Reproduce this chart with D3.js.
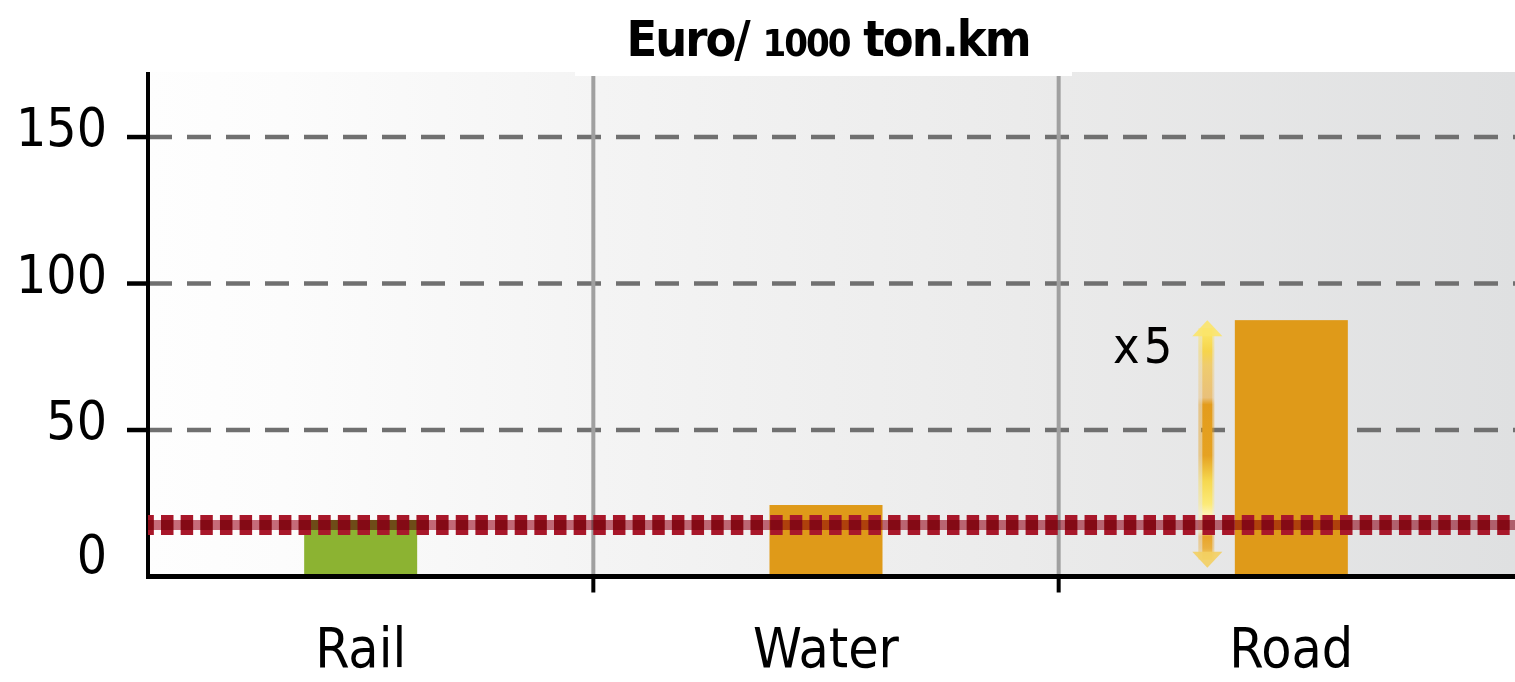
<!DOCTYPE html>
<html>
<head>
<meta charset="utf-8">
<script src="https://cdn.jsdelivr.net/npm/d3@7"></script>
<style>
  html, body { margin: 0; padding: 0; background: #ffffff; }
  svg { display: block; }
  .lbl { font-family: "DejaVu Sans Condensed", "DejaVu Sans", sans-serif; font-stretch: condensed; fill: #000; }
</style>
</head>
<body>
<svg id="chart" width="1515" height="682"></svg>
<script>
// ---- data ----
const categories = ["Rail", "Water", "Road"];
const values = [19.3, 24.4, 87.5];
const barColors = ["#8cb332", "#df9a19", "#df9a19"];
const yTicks = [0, 50, 100, 150];
const yTickLabels = ["0", "50", "100", "150"];
const referenceLevel = 17.6;          // dotted red line
const arrowRange = [3, 87.5];         // x5 arrow from bottom to road value
const arrowLabel = "x5";
const titleParts = ["Euro/ ", "1000", " ton.km"];

// ---- layout ----
const W = 1515, H = 682;
const plot = { left: 148, right: 1515, top: 72, bottom: 576.5 };

const svg = d3.select("#chart");

const y = d3.scaleLinear().domain([0, 172.2]).range([plot.bottom, plot.top]);
const x = d3.scaleBand().domain(categories).range([128, 1524]).paddingInner(0).paddingOuter(0);
const barW = 113;

const defs = svg.append("defs");
const bg = defs.append("linearGradient").attr("id", "bgGrad")
  .attr("x1", "0%").attr("x2", "100%").attr("y1", "0%").attr("y2", "0%");
[[0, "#fefefe"], [0.1, "#fcfcfc"], [0.33, "#f4f4f4"], [0.67, "#eaeaea"], [1, "#dfe0e1"]]
  .forEach(([o, c]) => bg.append("stop").attr("offset", o).attr("stop-color", c));

const ag = defs.append("linearGradient").attr("id", "arrowGrad")
  .attr("x1", "0").attr("x2", "0").attr("y1", "0").attr("y2", "1");
[[0, "#fde96a"], [0.1, "#f6d44c"], [0.16, "#efcc6e"], [0.3, "#e9c07a"], [0.33, "#e39c1c"],
 [0.55, "#e5a222"], [0.66, "#f6d850"], [0.76, "#fcea78"], [0.8, "#fdf2b0"], [0.88, "#f3d890"],
 [0.9, "#e8a52a"], [0.95, "#eab040"], [1, "#f8dc70"]]
  .forEach(([o, c]) => ag.append("stop").attr("offset", o).attr("stop-color", c));

// background
svg.append("rect")
  .attr("x", plot.left).attr("y", plot.top)
  .attr("width", plot.right - plot.left).attr("height", plot.bottom - plot.top)
  .attr("fill", "url(#bgGrad)");

// gridlines
svg.append("g").selectAll("line").data(yTicks.filter(d => d > 0)).join("line")
  .attr("x1", plot.left).attr("x2", plot.right)
  .attr("y1", d => y(d)).attr("y2", d => y(d))
  .attr("stroke", "#707070").attr("stroke-width", 4.5)
  .attr("stroke-dasharray", "24,15");

// category dividers
const dividers = categories.slice(1).map(c => x(c));
svg.append("g").selectAll("line").data(dividers).join("line")
  .attr("x1", d => d).attr("x2", d => d)
  .attr("y1", plot.top + 4).attr("y2", plot.bottom)
  .attr("stroke", "#a0a0a0").attr("stroke-width", 4);
svg.append("g").selectAll("line").data(dividers).join("line")
  .attr("x1", d => d).attr("x2", d => d)
  .attr("y1", plot.bottom).attr("y2", plot.bottom + 16)
  .attr("stroke", "#000").attr("stroke-width", 4);

// bars
svg.append("g").selectAll("rect").data(categories).join("rect")
  .attr("x", c => x(c) + x.bandwidth() / 2 - barW / 2)
  .attr("width", barW)
  .attr("y", (c, i) => y(values[i]))
  .attr("height", (c, i) => y(0) - y(values[i]) + 2)
  .attr("fill", (c, i) => barColors[i]);

// arrow
const ax = x("Road") + x.bandwidth() / 2 - 85;
const aTop = y(arrowRange[1]), aBot = y(arrowRange[0]);
const arrowG = svg.append("g");
arrowG.append("rect")
  .attr("x", ax - 8).attr("y", aTop + 8).attr("width", 16).attr("height", aBot - aTop - 16)
  .attr("fill", "url(#arrowGrad)").attr("opacity", 0.45);
arrowG.append("rect")
  .attr("x", ax - 4).attr("y", aTop + 8).attr("width", 10).attr("height", aBot - aTop - 16)
  .attr("fill", "url(#arrowGrad)");
arrowG.append("path")
  .attr("d", `M${ax - 14},${aTop + 16} L${ax + 1},${aTop} L${ax + 16},${aTop + 16} Z`)
  .attr("fill", "#fbe46a").attr("opacity", 0.9);
arrowG.append("path")
  .attr("d", `M${ax - 14},${aBot - 16} L${ax + 1},${aBot} L${ax + 16},${aBot - 16} Z`)
  .attr("fill", "#f3cf62").attr("opacity", 0.9);

// axes
svg.append("line")
  .attr("x1", plot.left).attr("x2", plot.left)
  .attr("y1", plot.top).attr("y2", plot.bottom + 2.5)
  .attr("stroke", "#000").attr("stroke-width", 4);
svg.append("line")
  .attr("x1", plot.left - 2).attr("x2", plot.right)
  .attr("y1", plot.bottom).attr("y2", plot.bottom)
  .attr("stroke", "#000").attr("stroke-width", 5);
svg.append("g").selectAll("line").data(yTicks.filter(d => d > 0)).join("line")
  .attr("x1", plot.left - 21).attr("x2", plot.left)
  .attr("y1", d => y(d)).attr("y2", d => y(d))
  .attr("stroke", "#000").attr("stroke-width", 4.5);

// reference dotted line
const refY = y(referenceLevel);
svg.append("line")
  .attr("x1", plot.left).attr("x2", plot.right)
  .attr("y1", refY).attr("y2", refY)
  .attr("stroke", "#a8172a").attr("stroke-width", 20)
  .attr("stroke-dasharray", "12.5,7.15").attr("stroke-dashoffset", 6.65);
svg.append("line")
  .attr("x1", plot.left - 2).attr("x2", plot.right)
  .attr("y1", refY).attr("y2", refY)
  .attr("stroke", "rgb(200,108,122)").attr("stroke-width", 10)
  .style("mix-blend-mode", "multiply");

// y tick labels
svg.append("g").selectAll("text").data(yTicks).join("text")
  .attr("class", "lbl")
  .attr("x", 107)
  .attr("y", d => y(d) + (d === 0 ? -23 : -10))
  .attr("dy", "0.36em")
  .attr("text-anchor", "end")
  .attr("font-size", 53)
  .text((d, i) => yTickLabels[i]);

// category labels
svg.append("g").selectAll("text").data(categories).join("text")
  .attr("class", "lbl")
  .attr("x", c => x(c) + x.bandwidth() / 2)
  .attr("y", 667)
  .attr("text-anchor", "middle")
  .attr("font-size", 55)
  .text(c => c);

// x5 label
svg.append("text")
  .attr("class", "lbl")
  .attr("x", ax - 30).attr("y", 363)
  .attr("text-anchor", "end")
  .attr("font-size", 50)
  .attr("letter-spacing", 4)
  .text(arrowLabel);

// title with white backing
const titleG = svg.append("g");
const titleBg = titleG.append("rect").attr("fill", "#ffffff");
const title = titleG.append("text")
  .attr("class", "lbl")
  .attr("x", 828).attr("y", 56)
  .attr("text-anchor", "middle")
  .attr("font-size", 50)
  .attr("font-weight", "bold")
  .attr("letter-spacing", -2);
title.append("tspan").text(titleParts[0]);
title.append("tspan").attr("font-size", 38).text(titleParts[1]);
title.append("tspan").text(titleParts[2]);
titleBg.attr("x", 575).attr("y", 0).attr("width", 497).attr("height", 76);
</script>
</body>
</html>
